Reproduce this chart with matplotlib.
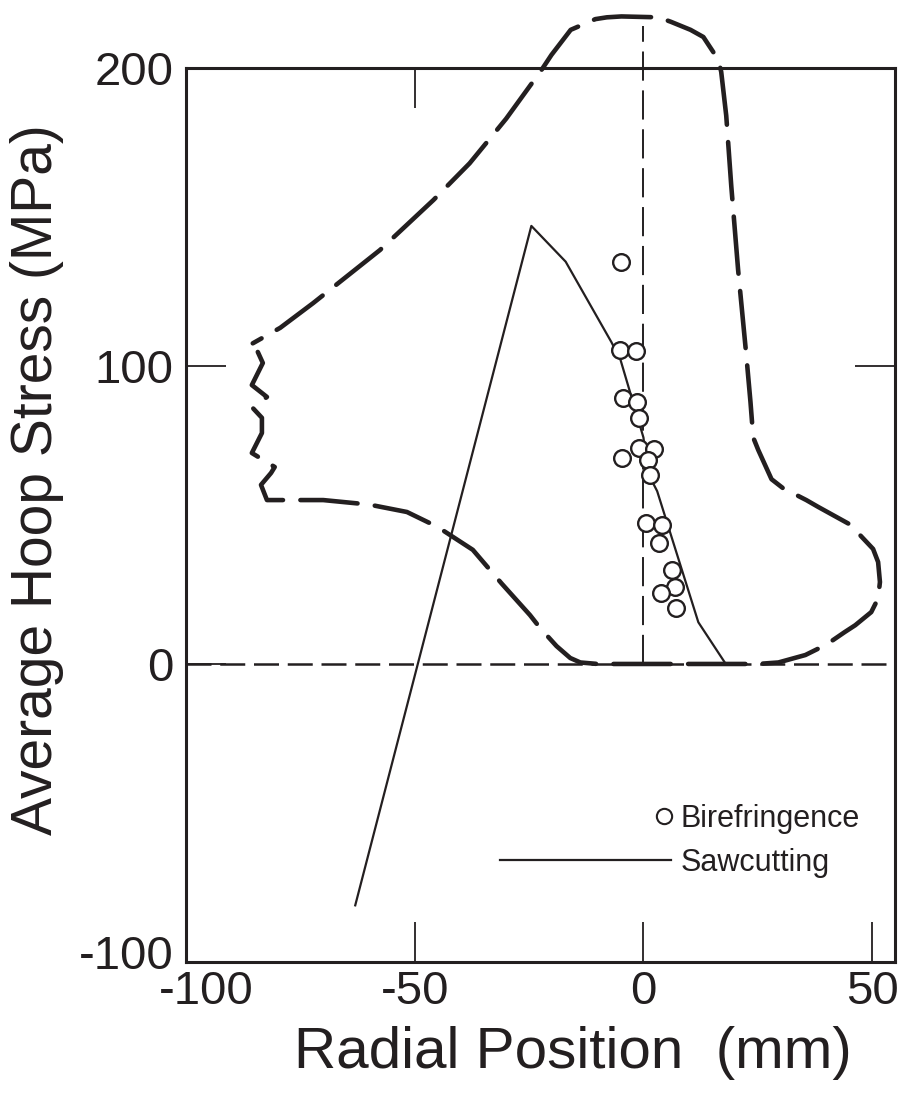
import matplotlib
matplotlib.use("Agg")
import matplotlib.pyplot as plt
import matplotlib.transforms as mtransforms
import numpy as np
from matplotlib.lines import Line2D
from matplotlib.legend_handler import HandlerLine2D

plt.rcParams['font.family'] = ['Liberation Sans', 'DejaVu Sans']
plt.rcParams['axes.unicode_minus'] = False

# Birefringence measurements (radial position mm, average hoop stress MPa)
bire_x = [-4.9, -5.1, -1.6, -4.4, -1.4, -0.9, -0.9, 2.3, -4.7, 1.0, 1.5,
          0.6, 4.1, 3.4, 6.3, 6.9, 3.9, 7.2]
bire_y = [134.9, 105.4, 105.0, 89.3, 87.9, 82.6, 72.5, 72.2, 69.1, 68.5, 63.4,
          47.3, 46.6, 40.6, 31.5, 25.8, 23.8, 18.8]

# Sawcutting profile
saw_x = [-63.0, -24.5, -17.0, -7.0, -5.0, 0.0, 1.0, 3.0, 12.0, 18.0]
saw_y = [-81.0, 147.0, 135.0, 108.0, 102.0, 76.0, 64.0, 58.0, 14.0, 0.0]

# Outline of the stress envelope (dashed, heavy)
env_x = [-84.3, -83.2, -85.6, -82.3, -85.4, -83.4, -83.4, -85.6, -80.6, -81.4,
         -83.6, -82.3, -70.0, -60.0, -51.7, -45.0, -37.3, -31.0, -24.8, -22.6,
         -19.0, -16.0, -13.8, -10.0, 25.0, 29.5, 35.4, 40.0, 44.0, 46.3, 49.8,
         51.3, 51.7, 51.3, 50.2, 47.5, 45.4, 38.2, 35.6, 30.5, 28.0, 25.1, 24.0,
         23.4, 22.5, 20.7, 19.2, 18.1, 17.0, 16.4, 13.1, 10.3, 6.0, 3.3, -4.8,
         -8.0, -10.5, -15.9, -20.1, -22.3, -30.0, -38.0, -45.9, -57.6, -72.2,
         -79.4, -85.4]
env_y = [104.7, 101.0, 93.6, 89.6, 85.9, 82.6, 77.5, 70.8, 66.1, 64.1,
         60.1, 55.0, 55.0, 53.5, 51.0, 46.0, 38.3, 27.0, 16.4, 12.1,
         6.0, 2.0, 0.5, 0.0, 0.0, 0.5, 3.0, 6.5, 10.7, 13.0, 17.4,
         22.0, 27.5, 34.2, 38.6, 43.0, 46.6, 52.7, 55.0, 59.0, 62.0, 71.8, 76.0,
         87.9, 103.4, 132.2, 160.4, 184.0, 198.7, 202.7, 210.4, 212.8, 215.5, 217.0, 217.3,
         217.0, 216.4, 212.8, 204.4, 199.3, 183.0, 168.0, 155.7, 138.9, 121.1,
         112.8, 107.6]

x_ticks = [-100, -50, 0, 50]
y_ticks = [-100, 0, 100, 200]
centre_top = 214.0

fig = plt.figure(figsize=(8.98, 10.93), dpi=100)
ax = fig.add_axes([0.2071, 0.1199, 0.7896, 0.8179])
ax.set_xlim(-100, 55)
ax.set_ylim(-100, 200)

ink = '#231f20'

# Reference lines
ax.axhline(0, color=ink, lw=1.8, dashes=(10, 3.5), zorder=2)
ax.plot([0, 0], [0, centre_top], color=ink, lw=1.4, dashes=(15, 5),
        clip_on=False, zorder=2)

# Envelope
ax.plot(env_x, env_y, color=ink, lw=3.3, dashes=(12.5, 3.8),
        dash_capstyle='round', solid_joinstyle='round', clip_on=False, zorder=3)

# Sawcutting
ax.plot(saw_x, saw_y, color=ink, lw=1.6, zorder=4)

# Birefringence
ax.plot(bire_x, bire_y, linestyle='none', marker='o', ms=12, mfc='white',
        mec=ink, mew=1.7, zorder=5)

for s in ax.spines.values():
    s.set_linewidth(2.2)
    s.set_color(ink)

ax.set_xticks(x_ticks)
ax.set_yticks(y_ticks)
ax.tick_params(direction='in', length=29, width=1.3, colors=ink,
               labelsize=34, pad=6)
ax.tick_params(axis='y', pad=9)

# keep the two corner labels apart
xl0 = ax.xaxis.get_major_ticks()[0].label1
xl0.set_transform(xl0.get_transform() +
                  mtransforms.ScaledTranslation(0.2, 0, fig.dpi_scale_trans))
yl0 = ax.yaxis.get_major_ticks()[0].label1
yl0.set_transform(yl0.get_transform() +
                  mtransforms.ScaledTranslation(0, 0.1, fig.dpi_scale_trans))

top = ax.secondary_xaxis('top')
top.set_xticks([-50])
top.tick_params(direction='in', length=29, width=1.3, labeltop=False, colors=ink)
top.spines['top'].set_visible(False)
right = ax.secondary_yaxis('right')
right.set_yticks([100])
right.tick_params(direction='in', length=29, width=1.3, labelright=False, colors=ink)
right.spines['right'].set_visible(False)

ax.set_xlabel('Radial Position  (mm)', fontsize=42, color=ink)
ax.set_ylabel('Average Hoop Stress (MPa)', fontsize=41, color=ink)
ax.xaxis.set_label_coords(0.545, -0.072)
ax.yaxis.set_label_coords(-0.172, 0.539)


class RightMarkerHandler(HandlerLine2D):
    def get_xdata(self, legend, xdescent, ydescent, width, height, fontsize):
        xm = -xdescent + width - 0.25 * fontsize
        return np.array([xm]), np.array([xm])


h_bire = Line2D([], [], linestyle='none', marker='o', ms=11, mfc='white',
                mec=ink, mew=1.5)
h_saw = Line2D([], [], color=ink, lw=1.6)
leg = ax.legend([h_bire, h_saw], ['Birefringence', 'Sawcutting'],
                loc='center left', bbox_to_anchor=(0.557, 0.2306),
                bbox_transform=fig.transFigure, frameon=False, fontsize=22,
                handlelength=5.6, handletextpad=0.3, labelspacing=0.45,
                borderpad=0, borderaxespad=0,
                handler_map={h_bire: RightMarkerHandler()})
for t in leg.get_texts():
    t.set_color(ink)

fig.savefig('out.png', dpi=100, facecolor='white')
